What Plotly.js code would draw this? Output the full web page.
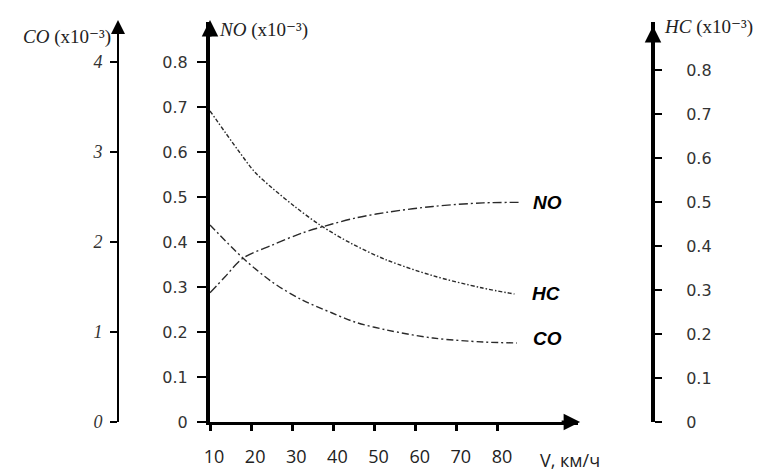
<!DOCTYPE html>
<html>
<head>
<meta charset="utf-8">
<script src="https://cdn.plot.ly/plotly-3.0.1.min.js"></script>
<style>html,body{margin:0;padding:0;background:#fff;}</style>
</head>
<body>
<div id="chart" style="width:765px;height:471px;"></div>
<script>
// Speed, km/h
const speedNO = [10, 13.6, 18, 25.1, 32.4, 39.7, 45.7, 53, 64.2, 76.4, 85];
const valuesNO = [0.287, 0.322, 0.364, 0.393, 0.420, 0.440, 0.454, 0.466, 0.479, 0.487, 0.488];

const speedHC = [10, 16.8, 20.9, 25.1, 30.7, 36.7, 44.5, 53, 64, 76, 84];
const valuesHC = [0.707, 0.618, 0.568, 0.532, 0.489, 0.448, 0.405, 0.368, 0.333, 0.305, 0.291];

const speedCO = [10, 18, 25.1, 32.4, 39.7, 45.2, 53, 64.2, 76.4, 84.6];
const valuesCO = [2.19, 1.822, 1.556, 1.356, 1.211, 1.111, 1.022, 0.933, 0.889, 0.878];

const xTicks = [10, 20, 30, 40, 50, 60, 70, 80];
const noTicks = [0, 0.1, 0.2, 0.3, 0.4, 0.5, 0.6, 0.7, 0.8];
const hcTicks = [0, 0.1, 0.2, 0.3, 0.4, 0.5, 0.6, 0.7, 0.8];
const coTicks = [0, 1, 2, 3, 4];

const lineCol = '#2a2a2a';
const traces = [
  {x: speedNO, y: valuesNO, yaxis: 'y', mode: 'lines', line: {shape: 'spline', smoothing: 0.9, color: lineCol, width: 1.4, dash: '9px,3px,2px,3px'}, hoverinfo: 'skip'},
  {x: speedHC, y: valuesHC, yaxis: 'y3', mode: 'lines', line: {shape: 'spline', smoothing: 0.9, color: lineCol, width: 1.4, dash: '4px,2px,1.5px,2px'}, hoverinfo: 'skip'},
  {x: speedCO, y: valuesCO, yaxis: 'y2', mode: 'lines', line: {shape: 'spline', smoothing: 0.9, color: lineCol, width: 1.4, dash: '7px,3px,2px,3px'}, hoverinfo: 'skip'}
];

const sans = 'DejaVu Sans, Verdana, sans-serif';
const serif = 'Liberation Serif, DejaVu Serif, Times New Roman, serif';
const labelFont = {family: 'Liberation Sans, Arial, sans-serif', size: 19, color: '#000', style: 'italic', weight: 'bold'};
const titleFont = {family: serif, size: 19, color: '#222'};
const xFont = {family: 'Open Sans, sans-serif', size: 18, color: '#222'};

const xd0 = (210 - 118) / 535, xd1 = (578 - 118) / 535;

const layout = {
  width: 765, height: 471,
  margin: {l: 118, r: 112, t: 22, b: 49},
  paper_bgcolor: '#fff', plot_bgcolor: 'rgba(0,0,0,0)',
  showlegend: false,
  xaxis: {
    domain: [xd0, xd1], range: [10, 99.45], anchor: 'y',
    showgrid: false, zeroline: false, showline: true, linecolor: '#000', linewidth: 3,
    ticks: 'outside', ticklen: 6, tickwidth: 3, tickcolor: '#000',
    tickvals: xTicks, ticktext: xTicks.map(String),
    tickfont: xFont, ticklabelshift: 4, ticklabelstandoff: 10
  },
  yaxis: {
    range: [0, 400 / 450], anchor: 'x', side: 'left',
    showgrid: false, zeroline: false, showline: true, linecolor: '#000', linewidth: 4,
    ticks: 'outside', ticklen: 9, tickwidth: 2, tickcolor: '#000',
    tickvals: noTicks, ticktext: noTicks.map(v => v === 0 ? '0' : v.toFixed(1)),
    tickfont: {family: sans, size: 16, color: '#333'}, ticklabelstandoff: 6
  },
  yaxis2: {
    range: [0, 400 / 90], overlaying: 'y', anchor: 'free', position: 0, side: 'left',
    showgrid: false, zeroline: false, showline: true, linecolor: '#000', linewidth: 2,
    ticks: 'outside', ticklen: 7, tickwidth: 2, tickcolor: '#000',
    tickvals: coTicks, ticktext: coTicks.map(String),
    tickfont: {family: serif, size: 18, color: '#333', style: 'italic'}, ticklabelstandoff: 4
  },
  yaxis3: {
    range: [0, 400 / 440], overlaying: 'y', anchor: 'free', position: 1, side: 'right',
    showgrid: false, zeroline: false, showline: true, linecolor: '#000', linewidth: 4,
    ticks: 'outside', ticklen: 7, tickwidth: 2, tickcolor: '#000',
    tickvals: hcTicks, ticktext: hcTicks.map(v => v === 0 ? '0' : v.toFixed(1)),
    tickfont: {family: sans, size: 16, color: '#333'}, ticklabelstandoff: 21
  },
  annotations: [
    // arrowheads on axes
    {xref: 'paper', yref: 'paper', x: 0, y: 1.005, ax: 0, ay: 18, text: '', showarrow: true, arrowhead: 2, arrowsize: 1.4, arrowwidth: 2, arrowcolor: '#000'},
    {xref: 'paper', yref: 'paper', x: xd0, y: 1.005, ax: 0, ay: 18, text: '', showarrow: true, arrowhead: 2, arrowsize: 1.1, arrowwidth: 3, arrowcolor: '#000'},
    {xref: 'paper', yref: 'paper', x: 1, y: 0.99, ax: 0, ay: 18, text: '', showarrow: true, arrowhead: 2, arrowsize: 1.1, arrowwidth: 3, arrowcolor: '#000'},
    {xref: 'paper', yref: 'paper', x: xd1 + 0.004, y: 0, ax: -20, ay: 0, text: '', showarrow: true, arrowhead: 2, arrowsize: 1.1, arrowwidth: 3, arrowcolor: '#000'},
    // axis titles
    {xref: 'paper', yref: 'paper', x: 0, y: 0.9625, xanchor: 'right', yanchor: 'middle', xshift: -5, showarrow: false,
     text: '<i>CO</i> (x10⁻³)', font: titleFont},
    {xref: 'paper', yref: 'paper', x: xd0, y: 0.98, xanchor: 'left', yanchor: 'middle', xshift: 7, showarrow: false,
     text: '<i>NO</i> (x10⁻³)', font: titleFont},
    {xref: 'paper', yref: 'paper', x: 1, y: 0.9875, xanchor: 'left', yanchor: 'middle', xshift: 9, showarrow: false,
     text: '<i>HC</i> (x10⁻³)', font: titleFont},
    {xref: 'paper', yref: 'paper', x: xd1 - 0.015, y: 0, xanchor: 'center', yanchor: 'top', yshift: -24, showarrow: false,
     text: 'V, км/ч', font: xFont},
    // curve labels
    {xref: 'x', yref: 'y', x: speedNO[speedNO.length - 1], y: valuesNO[valuesNO.length - 1], xanchor: 'left', xshift: 12, showarrow: false, text: 'NO', font: labelFont},
    {xref: 'x', yref: 'y3', x: speedHC[speedHC.length - 1], y: valuesHC[valuesHC.length - 1], xanchor: 'left', xshift: 16, showarrow: false, text: 'HC', font: labelFont},
    {xref: 'x', yref: 'y2', x: speedCO[speedCO.length - 1], y: valuesCO[valuesCO.length - 1], xanchor: 'left', xshift: 14, yshift: 4, showarrow: false, text: 'CO', font: labelFont}
  ]
};

Plotly.newPlot('chart', traces, layout, {staticPlot: true, displayModeBar: false});
</script>
</body>
</html>
